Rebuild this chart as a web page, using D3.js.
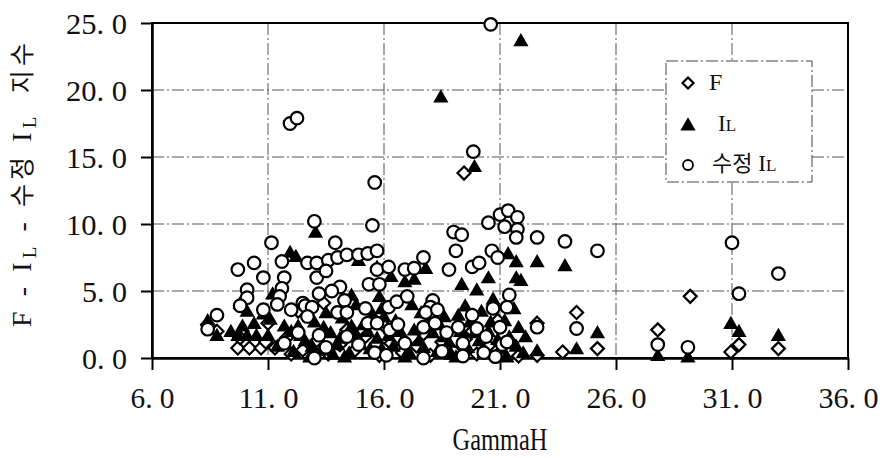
<!DOCTYPE html>
<html>
<head>
<meta charset="utf-8">
<script src="https://cdn.jsdelivr.net/npm/d3@7/dist/d3.min.js"></script>
<style>
  body { margin: 0; background: #fff; }
  svg { display: block; }
</style>
</head>
<body>
<svg width="880" height="458"></svg>
<script>
// chart values: [GammaH, index]
var fPoints = [
  [9.7,0.75],[10.2,0.75],[10.7,0.75],[11.3,0.75],[8.4,2.5],[8.8,2.0],[9.8,1.5],[10.9,1.2],[11.8,1.5],
  [12.0,0.3],[12.5,0.6],[13.1,1.3],[13.6,0.3],[14.1,1.0],[14.4,2.1],[14.7,0.5],[15.2,1.6],[15.8,0.2],
  [16.0,2.4],[16.3,1.1],[16.8,0.4],[17.4,0.9],[17.7,1.8],[18.0,0.2],[18.5,1.2],[19.0,0.5],[19.5,1.4],
  [19.8,2.0],[20.0,0.3],[20.5,0.9],[20.9,2.8],[21.0,0.4],[21.5,1.1],[21.8,0.15],[22.6,2.6],[22.6,0.2],
  [24.3,3.4],[23.7,0.45],[25.2,0.7],[27.8,2.1],[29.2,4.6],[31.3,1.0],[30.95,0.45],[33.0,0.7],
  [19.45,13.8],[12.3,3.5],[13.4,4.1],[11.0,2.6]
];
var ilPoints = [
  [18.45,19.4],[21.9,23.6],[19.9,14.2],[13.05,9.3],[11.95,7.8],[12.2,7.5],
  [22.6,7.1],[23.8,6.8],[21.9,5.7],[25.2,1.8],[24.3,0.6],[22.6,0.45],[27.8,0.1],[29.1,0.0],
  [30.95,2.5],[31.3,1.9],[33.0,1.6],
  [15.7,6.7],[16.3,6.0],[16.9,5.6],[17.3,5.8],[14.6,4.6],[15.8,4.5],[14.9,7.2],[17.8,6.6],
  [21.35,7.7],[21.7,7.1],[21.7,5.9],[20.5,5.9],[19.35,5.4],[20.0,5.0],[20.7,4.3],
  [9.7,1.6],[10.1,1.6],[10.5,1.6],[11.0,1.6],[8.4,2.7],[8.8,1.6],[11.7,2.3],[12.3,2.3],
  [9.8,4.0],[10.1,3.4],[10.8,3.2],[11.2,4.7],[11.1,2.8],[9.9,2.3],
  [12.1,0.4],[12.6,1.2],[13.0,2.6],[13.3,0.5],[13.7,1.8],[14.0,0.9],[14.2,2.9],[14.5,0.3],
  [14.8,1.7],[15.1,2.4],[15.4,0.6],[15.7,1.4],[16.0,3.0],[16.4,0.8],[16.7,1.9],[17.1,0.3],
  [17.5,1.2],[17.9,2.7],[18.3,0.4],[18.6,1.5],[18.9,0.2],[19.2,3.1],[19.6,0.7],[19.9,1.8],
  [20.3,0.3],[20.6,2.6],[21.0,0.6],[21.4,1.5],[21.8,2.2],[22.0,0.3],[20.2,3.4],[21.6,3.6],
  [17.2,3.9],[13.5,3.3],[15.5,3.2],[18.6,3.0],[12.8,0.0],[16.9,0.0],[14.3,0.0],[19.1,0.0],[21.3,0.0],
  [12.4,1.6],[12.9,0.8],[13.4,2.2],[13.8,0.2],[14.1,1.4],[14.6,2.3],[15.0,0.9],[15.3,1.9],
  [15.9,0.6],[16.2,1.6],[16.5,2.7],[16.8,1.2],[17.3,2.0],[17.7,0.7],[18.1,1.8],[18.4,2.4],
  [18.8,1.1],[19.3,1.9],[19.7,2.6],[20.1,1.2],[20.5,1.9],[20.9,1.3],[21.2,2.7],[21.7,0.8],
  [22.1,1.5],[11.4,0.8],[12.0,1.9],[10.4,2.5],[9.4,1.9],[15.9,3.6],[17.6,3.3],[19.5,3.8],[14.8,3.9]
];
var modIlPoints = [
  [20.6,24.9],[11.95,17.5],[12.25,17.9],[19.85,15.4],[15.6,13.1],[15.5,9.9],[13.0,10.2],
  [20.5,10.1],[21.0,10.7],[21.35,11.0],[21.75,10.5],[21.2,9.8],[21.75,9.6],[21.7,9.0],[22.6,9.0],
  [23.8,8.7],[19.0,9.4],[19.35,9.2],[25.2,8.0],[31.0,8.6],[33.0,6.3],[31.3,4.8],[27.8,1.0],
  [29.1,0.8],[24.3,2.2],[22.6,2.3],
  [11.15,8.6],[10.4,7.1],[9.7,6.6],[10.8,6.0],[11.6,7.2],[12.7,7.1],[11.7,6.0],[11.6,5.2],
  [10.1,5.1],[10.1,4.5],[11.5,4.6],[9.8,3.9],[10.8,3.6],[11.4,4.0],[12.0,3.6],[12.5,4.1],
  [8.8,3.2],[8.4,2.15],[12.6,3.9],[11.7,1.1],
  [13.9,8.6],[13.1,7.1],[13.6,7.3],[14.0,7.5],[14.4,7.7],[14.9,7.7],[15.3,7.8],[15.7,8.0],
  [15.7,6.6],[16.2,6.8],[16.9,6.6],[15.35,5.5],[15.8,5.5],[13.1,6.0],[13.5,6.5],[14.1,5.3],
  [13.2,4.8],[13.75,5.0],[14.3,4.3],[12.9,3.8],[16.2,3.8],[16.55,4.2],[17.0,4.6],[14.0,3.4],
  [14.4,3.4],[15.2,3.7],[15.3,2.6],[15.7,2.6],[16.25,2.1],[16.6,2.5],[12.7,3.1],[13.2,1.7],
  [13.5,0.8],[13.0,0.0],[14.4,1.6],[16.9,1.1],
  [19.1,8.0],[17.7,7.5],[17.3,6.7],[18.8,6.6],[19.8,6.8],[20.1,7.1],[20.65,8.0],[20.9,7.5],
  [21.4,4.7],[18.1,4.3],[18.0,3.8],[17.8,3.4],[18.3,3.6],[17.7,2.3],[18.2,2.6],[18.7,1.9],
  [19.2,2.3],[19.8,3.2],[20.0,2.2],[19.4,1.1],[20.4,1.6],[21.0,2.3],[20.7,3.7],[21.3,3.8],
  [21.1,1.0],[20.8,0.1],[19.4,0.15],[17.7,0.0],[21.3,1.2],
  [14.9,1.0],[15.6,0.4],[12.3,1.9],[18.5,0.5],[16.1,0.2],[20.3,0.4]
];
var xTicks = [6, 11, 16, 21, 26, 31, 36];
var yTicks = [0, 5, 10, 15, 20, 25];
var seriesNames = ["F", "IL", "수정 IL"];

var svg = d3.select("svg");
var x = d3.scaleLinear().domain([6, 36]).range([152, 848]);
var y = d3.scaleLinear().domain([0, 25]).range([358, 23]);
var fmt = function (d) { return d.toFixed(1).replace(".", ". "); };
var serif = "'Liberation Serif', 'DejaVu Serif', serif";

// grid
var grid = svg.append("g").attr("stroke", "#555").attr("stroke-width", 1)
  .attr("stroke-dasharray", "12,3,2,3").attr("fill", "none");
grid.selectAll(".gx").data(xTicks.slice(1, -1)).enter().append("line")
  .attr("x1", function (d) { return x(d); }).attr("x2", function (d) { return x(d); })
  .attr("y1", y(25)).attr("y2", y(0));
grid.selectAll(".gy").data(yTicks.slice(1, -1)).enter().append("line")
  .attr("y1", function (d) { return y(d); }).attr("y2", function (d) { return y(d); })
  .attr("x1", x(6)).attr("x2", x(36));

// frame
svg.append("rect").attr("x", x(6)).attr("y", y(25))
  .attr("width", x(36) - x(6)).attr("height", y(0) - y(25))
  .attr("fill", "none").attr("stroke", "#000").attr("stroke-width", 2);

// axes
var xAxis = svg.append("g").attr("transform", "translate(0," + y(0) + ")")
  .call(d3.axisBottom(x).tickValues(xTicks).tickFormat(fmt).tickSize(12).tickSizeOuter(0));
var yAxis = svg.append("g").attr("transform", "translate(" + x(6) + ",0)")
  .call(d3.axisLeft(y).tickValues(yTicks).tickFormat(fmt).tickSize(11).tickSizeOuter(0));
[xAxis, yAxis].forEach(function (a) {
  a.select(".domain").attr("stroke-width", 2.5);
  a.selectAll(".tick line").attr("stroke-width", 2);
  a.selectAll(".tick text").attr("font-family", serif).attr("font-size", 30).attr("fill", "#111")
    .attr("lengthAdjust", "spacingAndGlyphs");
});
xAxis.selectAll(".tick text").attr("y", 29).attr("dy", "0.71em")
  .attr("textLength", function (d) { return d >= 10 ? 60 : 44; });
yAxis.selectAll(".tick text").attr("x", -25).attr("dy", "0.34em")
  .attr("textLength", function (d) { return d >= 10 ? 61 : 45; });

// axis titles
svg.append("text").attr("x", 500).attr("y", 450).attr("text-anchor", "middle")
  .attr("font-family", serif).attr("font-size", 32).attr("fill", "#111")
  .attr("textLength", 95).attr("lengthAdjust", "spacingAndGlyphs").text("GammaH");

var yTitle = svg.append("text").attr("transform", "translate(31,185) rotate(-90)")
  .attr("text-anchor", "middle").attr("font-family", serif + ", 'Noto Sans CJK KR'")
  .attr("font-size", 28).attr("fill", "#111")
  .attr("textLength", 284).attr("lengthAdjust", "spacing");
yTitle.append("tspan").text("F - I");
yTitle.append("tspan").attr("font-size", 19).attr("dy", 5).text("L");
yTitle.append("tspan").attr("dy", -5).text(" - ");
yTitle.append("tspan").attr("font-family", "'Noto Sans CJK KR'").attr("font-size", 25).text("수정");
yTitle.append("tspan").text(" I");
yTitle.append("tspan").attr("font-size", 19).attr("dy", 5).text("L");
yTitle.append("tspan").attr("dy", -5).attr("font-family", "'Noto Sans CJK KR'").attr("font-size", 25)
  .text("\u00a0\u00a0지수");

// markers
var diamond = "M0,-6.5L6.5,0L0,6.5L-6.5,0Z";
var tri = d3.symbol().type(d3.symbolTriangle).size(100)();
var plot = svg.append("g");
plot.selectAll(".f").data(fPoints).enter().append("path")
  .attr("d", diamond)
  .attr("transform", function (d) { return "translate(" + x(d[0]) + "," + y(d[1]) + ")"; })
  .attr("fill", "#fff").attr("stroke", "#000").attr("stroke-width", 2.2);
plot.selectAll(".il").data(ilPoints).enter().append("path")
  .attr("d", tri)
  .attr("transform", function (d) { return "translate(" + x(d[0]) + "," + y(d[1]) + ")"; })
  .attr("fill", "#000");
plot.selectAll(".m").data(modIlPoints).enter().append("circle")
  .attr("cx", function (d) { return x(d[0]); }).attr("cy", function (d) { return y(d[1]); })
  .attr("r", 6.3).attr("fill", "#fff").attr("stroke", "#000").attr("stroke-width", 2.2);

// legend
var lg = svg.append("g");
lg.append("rect").attr("x", 666).attr("y", 61).attr("width", 146).attr("height", 121)
  .attr("fill", "#fff").attr("stroke", "#444").attr("stroke-width", 1).attr("stroke-dasharray", "12,3,2,3");
lg.append("path").attr("d", "M0,-5.5L5.5,0L0,5.5L-5.5,0Z").attr("transform", "translate(688,83)")
  .attr("fill", "#fff").attr("stroke", "#000").attr("stroke-width", 2.2);
lg.append("path").attr("d", tri).attr("transform", "translate(688,126)").attr("fill", "#000");
lg.append("circle").attr("cx", 688).attr("cy", 165).attr("r", 5).attr("fill", "#fff")
  .attr("stroke", "#000").attr("stroke-width", 1.8);
var t1 = lg.append("text").attr("x", 709).attr("y", 90).attr("font-family", serif)
  .attr("font-size", 24).attr("fill", "#111").text(seriesNames[0]);
var t2 = lg.append("text").attr("x", 718).attr("y", 131).attr("font-family", serif)
  .attr("font-size", 23).attr("fill", "#111");
t2.append("tspan").text("I");
t2.append("tspan").attr("font-size", 17).text("L");
var t3 = lg.append("text").attr("x", 712).attr("y", 171).attr("font-family", serif)
  .attr("font-size", 23).attr("fill", "#111");
t3.append("tspan").attr("font-family", "'Noto Sans CJK KR'").attr("font-size", 22).text("수정");
t3.append("tspan").text(" I");
t3.append("tspan").attr("font-size", 17).text("L");
</script>
</body>
</html>
